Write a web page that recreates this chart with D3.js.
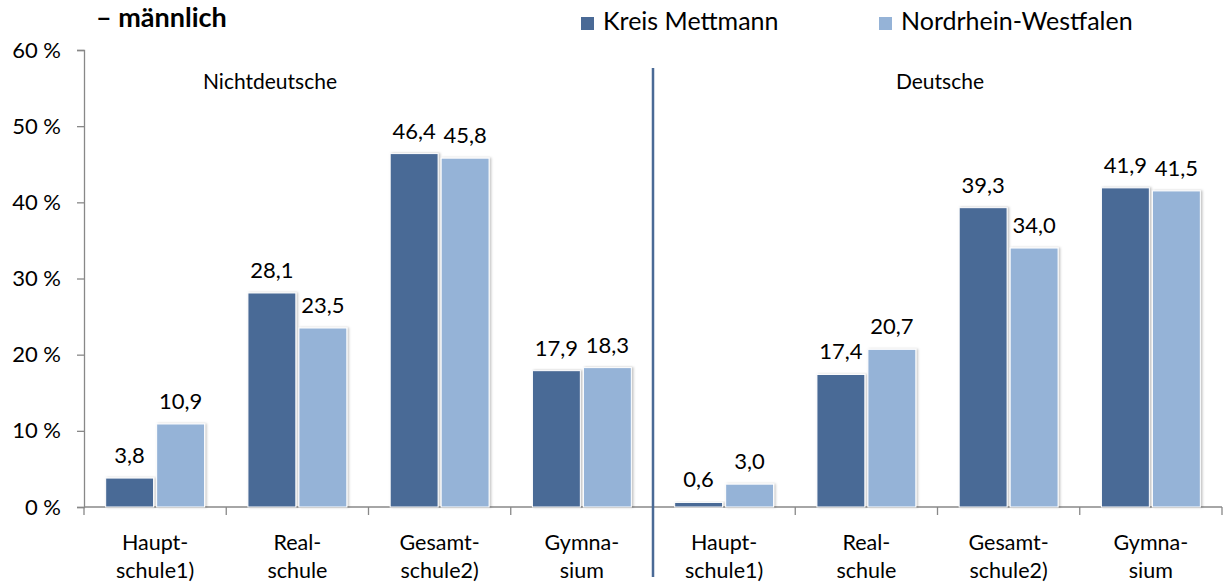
<!DOCTYPE html>
<html>
<head>
<meta charset="utf-8">
<script src="https://cdn.jsdelivr.net/npm/d3@7"></script>
<style>
  body { margin: 0; background: #fff; }
  text { font-family: Lato, "Open Sans", sans-serif; fill: #000; }
</style>
</head>
<body>
<div id="chart"></div>
<script>
// Data
const groups = ["Nichtdeutsche", "Deutsche"];
const schoolTypes = [["Haupt-", "schule1)"], ["Real-", "schule"], ["Gesamt-", "schule2)"], ["Gymna-", "sium"]];
const seriesNames = ["Kreis Mettmann", "Nordrhein-Westfalen"];
const kreisValues = [3.8, 28.1, 46.4, 17.9, 0.6, 17.4, 39.3, 41.9];
const nrwValues = [10.9, 23.5, 45.8, 18.3, 3.0, 20.7, 34.0, 41.5];
const yTicks = [0, 10, 20, 30, 40, 50, 60];

const width = 1223, height = 583;
const colors = ["#4a6a96", "#95b3d7"];

let svg = d3.select("#chart")
    .append("svg")
    .attr("width", width)
    .attr("height", height);

// shadow for bars
let defs = svg.append("defs");
let f = defs.append("filter").attr("id", "shadow").attr("x", "-10%").attr("y", "-10%").attr("width", "130%").attr("height", "120%");
f.append("feDropShadow").attr("dx", 1.5).attr("dy", 0).attr("stdDeviation", 1.2).attr("flood-color", "#000").attr("flood-opacity", 0.25);

// categories: 8 slots
let cats = d3.range(8);
let x = d3.scaleBand()
    .domain(cats)
    .range([84, 1222])
    .paddingInner(0)
    .paddingOuter(0);

let x1 = d3.scaleBand()
    .domain([0, 1])
    .range([0, x.bandwidth()])
    .paddingInner(0.06)
    .paddingOuter(0.425);

let y = d3.scaleLinear()
    .domain([0, 60])
    .range([507, 50]);

// Title
svg.append("text")
    .attr("x", 96)
    .attr("y", 27)
    .style("font-size", "27px")
    .style("font-weight", "bold")
    .text("– männlich");

// Legend
let legendX = [581, 879];
seriesNames.forEach(function(name, i) {
    svg.append("rect")
        .attr("x", legendX[i])
        .attr("y", 17)
        .attr("width", 13)
        .attr("height", 13)
        .attr("fill", colors[i]);
    svg.append("text")
        .attr("x", legendX[i] + 22)
        .attr("y", 30)
        .style("font-size", "25px")
        .text(name);
});

// Y axis
let yAxis = d3.axisLeft(y)
    .tickValues(yTicks)
    .tickSize(7)
    .tickPadding(16)
    .tickFormat(d => d + " %");

let yg = svg.append("g")
    .attr("transform", "translate(84,0)")
    .call(yAxis);
yg.select(".domain").attr("stroke", "#888").attr("stroke-width", 1.3);
yg.selectAll(".tick line").attr("stroke", "#888").attr("stroke-width", 1.3);
yg.selectAll(".tick text").style("font-size", "22px").attr("fill", "#000");

// X axis line and ticks
svg.append("line")
    .attr("x1", 84).attr("x2", 1222)
    .attr("y1", y(0)).attr("y2", y(0))
    .attr("stroke", "#888").attr("stroke-width", 1.3);

svg.selectAll(".xtick")
    .data(d3.range(9))
    .enter()
    .append("line")
    .attr("class", "xtick")
    .attr("x1", d => 84 + d * x.bandwidth())
    .attr("x2", d => 84 + d * x.bandwidth())
    .attr("y1", y(0))
    .attr("y2", y(0) + 8)
    .attr("stroke", "#888")
    .attr("stroke-width", 1.3);

// x labels
cats.forEach(function(c) {
    let lines = schoolTypes[c % 4];
    let t = svg.append("text")
        .attr("text-anchor", "middle")
        .style("font-size", "21.5px");
    t.append("tspan").attr("x", x(c) + x.bandwidth() / 2).attr("y", 550).text(lines[0]);
    t.append("tspan").attr("x", x(c) + x.bandwidth() / 2).attr("y", 578).text(lines[1]);
});

// bars
let barData = [];
cats.forEach(function(c) {
    barData.push({ cat: c, s: 0, v: kreisValues[c] });
    barData.push({ cat: c, s: 1, v: nrwValues[c] });
});

svg.append("g")
    .selectAll("rect")
    .data(barData)
    .enter()
    .append("rect")
    .attr("x", d => x(d.cat) + x1(d.s))
    .attr("y", d => y(d.v))
    .attr("width", x1.bandwidth())
    .attr("height", d => y(0) - y(d.v))
    .attr("fill", d => colors[d.s])
    .attr("stroke", "#fff")
    .attr("stroke-width", 1)
    .attr("filter", "url(#shadow)");

// value labels
svg.append("g")
    .selectAll("text")
    .data(barData)
    .enter()
    .append("text")
    .attr("x", d => x(d.cat) + x1(d.s) + x1.bandwidth() / 2)
    .attr("y", d => y(d.v) - 15)
    .attr("text-anchor", "middle")
    .style("font-size", "22px")
    .text(d => d.v.toFixed(1).replace(".", ","));

// divider
svg.append("line")
    .attr("x1", x(4)).attr("x2", x(4))
    .attr("y1", 68).attr("y2", 577)
    .attr("stroke", "#4a6a96")
    .attr("stroke-width", 2.5);

// group labels
groups.forEach(function(g, i) {
    svg.append("text")
        .attr("x", i === 0 ? 270 : 940)
        .attr("y", 89)
        .attr("text-anchor", "middle")
        .style("font-size", "21px")
        .text(g);
});
</script>
</body>
</html>
